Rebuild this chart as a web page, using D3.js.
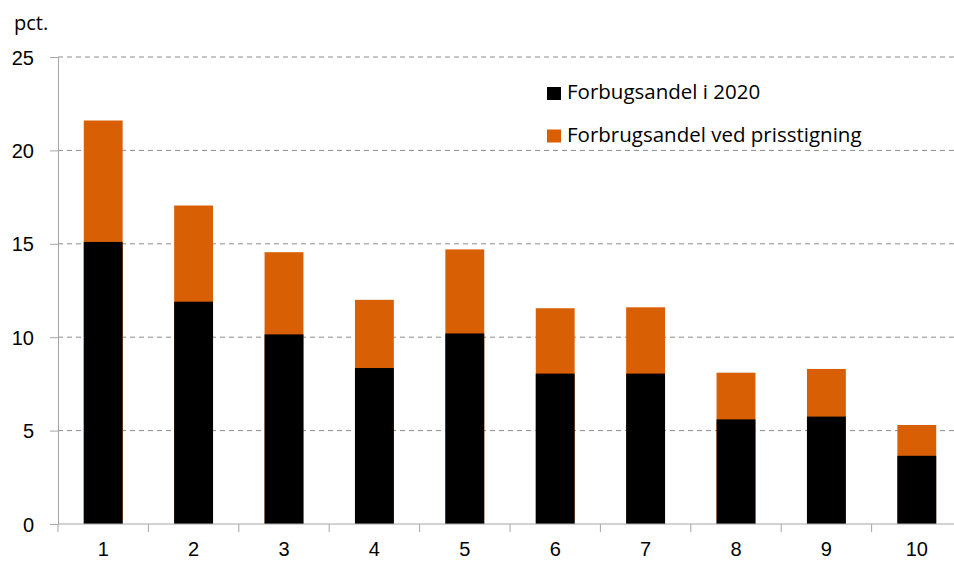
<!DOCTYPE html>
<html>
<head>
<meta charset="utf-8">
<script src="https://cdn.jsdelivr.net/npm/d3@7"></script>
<style>
  body { margin: 0; background: #fff; }
  svg { display: block; font-family: "Open Sans", sans-serif; }
  .grid line { stroke: #8c8c8c; stroke-dasharray: 5,4; }
  .axis path, .axis line { stroke: #a6a6a6; }
  .axis text { fill: #000; font-size: 20px; }
</style>
</head>
<body>
<svg id="chart" width="954" height="563"></svg>
<script>
(function() {

  var categories = ['1', '2', '3', '4', '5', '6', '7', '8', '9', '10'];
  var share2020 = [15.1, 11.9, 10.15, 8.35, 10.2, 8.05, 8.05, 5.6, 5.75, 3.65];
  var sharePrice = [21.6, 17.05, 14.55, 12.0, 14.7, 11.55, 11.6, 8.1, 8.3, 5.3];
  var yTicks = [0, 5, 10, 15, 20, 25];
  var legendLabels = ['Forbugsandel i 2020', 'Forbrugsandel ved prisstigning'];
  var colors = ['#000000', '#d95f04'];

  var margin = { top: 57, left: 58 };
  var plotWidth = 904,
      plotHeight = 467;

  var svg = d3.select('#chart');

  var g = svg.append('g')
      .attr('transform', 'translate(' + margin.left + ',' + margin.top + ')');

  var xScale = d3.scaleBand()
      .domain(categories)
      .range([0, plotWidth])
      .paddingInner(0.57)
      .paddingOuter(0.285);

  var yScale = d3.scaleLinear()
      .domain([0, 25])
      .range([plotHeight, 0]);

  // horizontal dashed grid
  g.append('g')
      .attr('class', 'grid')
      .selectAll('line')
      .data(yTicks.filter(function(d) { return d > 0; }))
      .enter().append('line')
        .attr('x1', 0)
        .attr('x2', plotWidth)
        .attr('y1', function(d) { return yScale(d); })
        .attr('y2', function(d) { return yScale(d); });

  // orange bars (value with price rise), black on top (2020 share)
  g.append('g').selectAll('rect')
      .data(sharePrice)
      .enter().append('rect')
        .attr('x', function(d, i) { return xScale(categories[i]); })
        .attr('width', xScale.bandwidth())
        .attr('y', function(d) { return yScale(d); })
        .attr('height', function(d) { return yScale(0) - yScale(d); })
        .attr('fill', colors[1]);

  g.append('g').selectAll('rect')
      .data(share2020)
      .enter().append('rect')
        .attr('x', function(d, i) { return xScale(categories[i]); })
        .attr('width', xScale.bandwidth())
        .attr('y', function(d) { return yScale(d); })
        .attr('height', function(d) { return yScale(0) - yScale(d); })
        .attr('fill', colors[0]);

  // y axis
  var yAxis = g.append('g')
      .attr('class', 'axis y-axis')
      .call(d3.axisLeft(yScale)
        .tickValues(yTicks)
        .tickSize(8)
        .tickPadding(16)
        .tickSizeOuter(0));
  yAxis.selectAll('text').attr('dy', '0.35em');

  // x axis with ticks between categories
  var xAxis = g.append('g')
      .attr('class', 'axis x-axis')
      .attr('transform', 'translate(0,' + plotHeight + ')')
      .call(d3.axisBottom(xScale).tickSize(0).tickPadding(18));
  xAxis.select('.domain').attr('d', 'M0,0H' + plotWidth);
  xAxis.selectAll('.sep')
      .data(d3.range(categories.length + 1))
      .enter().append('line')
        .attr('class', 'sep')
        .attr('x1', function(d) { return d * xScale.step(); })
        .attr('x2', function(d) { return d * xScale.step(); })
        .attr('y1', 0)
        .attr('y2', 8);

  // unit label
  svg.append('text')
      .attr('x', 14)
      .attr('y', 30)
      .attr('font-size', 20)
      .text('pct.');

  // legend
  var legend = svg.append('g')
      .attr('transform', 'translate(547,87)');

  var item = legend.selectAll('g')
      .data(legendLabels)
      .enter().append('g')
        .attr('transform', function(d, i) { return 'translate(0,' + (i * 42.5) + ')'; });

  item.append('rect')
      .attr('width', 14)
      .attr('height', 13)
      .attr('fill', function(d, i) { return colors[i]; });

  item.append('text')
      .attr('x', 20)
      .attr('y', 12)
      .attr('font-size', 20.5)
      .text(function(d) { return d; });

})();
</script>
</body>
</html>
